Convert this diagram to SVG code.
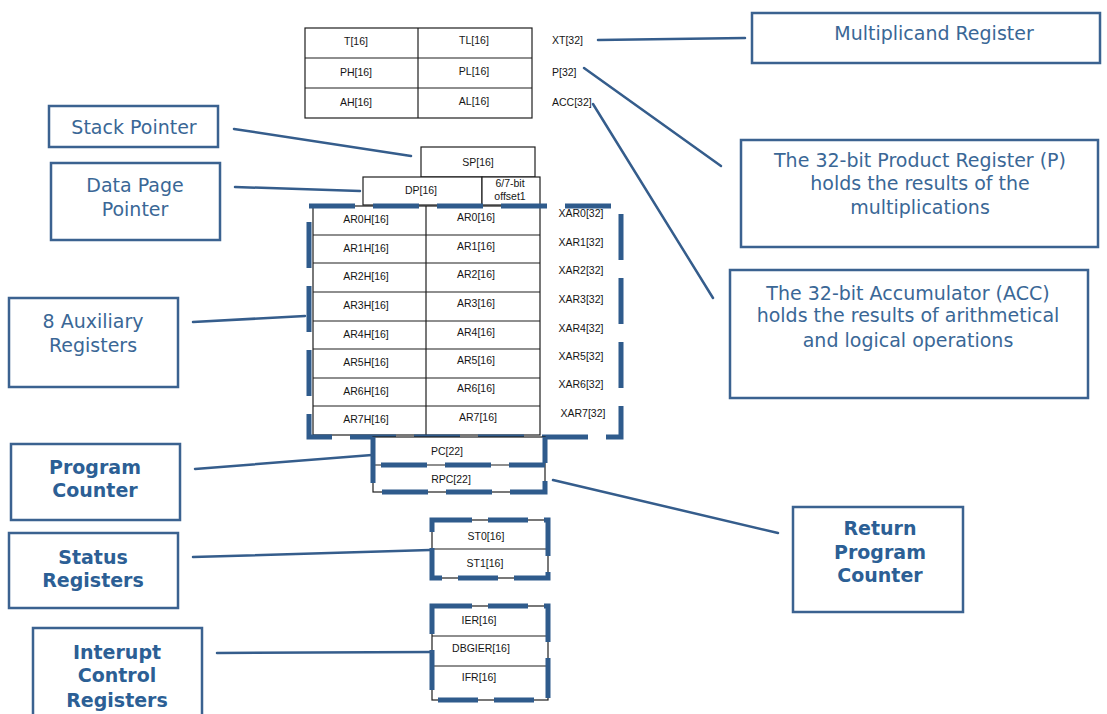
<svg xmlns="http://www.w3.org/2000/svg" width="1107" height="714" viewBox="0 0 1107 714">
  <style>
    .cell { fill: #ffffff; stroke: #1e1e1e; stroke-width: 1.2; }
    .thin { stroke: #1e1e1e; stroke-width: 1.2; fill: none; }
    .reg { font-family: "Liberation Sans", Arial, sans-serif; font-size: 10.5px; fill: #151515; }
    .regc { text-anchor: middle; }
    .frame { fill: none; stroke: #2f5b8c; stroke-width: 5; stroke-dasharray: 46 18; stroke-linecap: butt; }
    .box { fill: #ffffff; stroke: #3b6290; stroke-width: 2.5; }
    .lbl { font-family: "DejaVu Sans", Verdana, sans-serif; font-size: 19px; fill: #3a6796; text-anchor: middle; }
    .blbl { font-family: "DejaVu Sans", Verdana, sans-serif; font-size: 19px; font-weight: bold; fill: #2c5f95; text-anchor: middle; }
    .conn { stroke: #355d8c; stroke-width: 2.5; fill: none; stroke-linecap: round; }
  </style>

  <rect width="1107" height="714" fill="#ffffff"/>

  <!-- multiplier / product / accumulator registers -->
  <g id="mul-regs">
    <rect class="cell" x="305" y="28" width="227" height="90"/>
    <line class="thin" x1="305" y1="58" x2="532" y2="58"/>
    <line class="thin" x1="305" y1="88" x2="532" y2="88"/>
    <line class="thin" x1="418" y1="28" x2="418" y2="118"/>
    <text class="reg regc" x="356" y="45">T[16]</text>
    <text class="reg regc" x="474" y="44">TL[16]</text>
    <text class="reg regc" x="356" y="76">PH[16]</text>
    <text class="reg regc" x="474" y="75">PL[16]</text>
    <text class="reg regc" x="356" y="106">AH[16]</text>
    <text class="reg regc" x="474" y="105">AL[16]</text>
    <text class="reg" x="552" y="44">XT[32]</text>
    <text class="reg" x="552" y="76">P[32]</text>
    <text class="reg" x="552" y="106">ACC[32]</text>
  </g>

  <!-- stack pointer and data page pointer -->
  <g id="sp-dp">
    <rect class="cell" x="421" y="147" width="114" height="30"/>
    <text class="reg regc" x="478" y="166">SP[16]</text>
    <rect class="cell" x="363" y="177" width="119" height="28"/>
    <text class="reg regc" x="421" y="194">DP[16]</text>
    <rect class="cell" x="482" y="177" width="58" height="28"/>
    <text class="reg regc" x="510" y="187" font-size="9.5">6/7-bit</text>
    <text class="reg regc" x="510" y="200" font-size="9.5">offset1</text>
  </g>

  <!-- auxiliary registers -->
  <g id="aux-regs">
    <rect class="cell" x="313" y="206" width="227" height="229"/>
    <line class="thin" x1="426" y1="206" x2="426" y2="435"/>
    <line class="thin" x1="313" y1="235" x2="540" y2="235"/>
    <line class="thin" x1="313" y1="263" x2="540" y2="263"/>
    <line class="thin" x1="313" y1="292" x2="540" y2="292"/>
    <line class="thin" x1="313" y1="321" x2="540" y2="321"/>
    <line class="thin" x1="313" y1="349" x2="540" y2="349"/>
    <line class="thin" x1="313" y1="378" x2="540" y2="378"/>
    <line class="thin" x1="313" y1="406" x2="540" y2="406"/>

    <text class="reg regc" x="366" y="223">AR0H[16]</text>
    <text class="reg regc" x="366" y="252">AR1H[16]</text>
    <text class="reg regc" x="366" y="280">AR2H[16]</text>
    <text class="reg regc" x="366" y="309">AR3H[16]</text>
    <text class="reg regc" x="366" y="338">AR4H[16]</text>
    <text class="reg regc" x="366" y="366">AR5H[16]</text>
    <text class="reg regc" x="366" y="395">AR6H[16]</text>
    <text class="reg regc" x="366" y="423">AR7H[16]</text>

    <text class="reg regc" x="476" y="221">AR0[16]</text>
    <text class="reg regc" x="476" y="250">AR1[16]</text>
    <text class="reg regc" x="476" y="278">AR2[16]</text>
    <text class="reg regc" x="476" y="307">AR3[16]</text>
    <text class="reg regc" x="476" y="336">AR4[16]</text>
    <text class="reg regc" x="476" y="364">AR5[16]</text>
    <text class="reg regc" x="476" y="392">AR6[16]</text>
    <text class="reg regc" x="478" y="421">AR7[16]</text>

    <text class="reg regc" x="581" y="217">XAR0[32]</text>
    <text class="reg regc" x="581" y="246">XAR1[32]</text>
    <text class="reg regc" x="581" y="274">XAR2[32]</text>
    <text class="reg regc" x="581" y="303">XAR3[32]</text>
    <text class="reg regc" x="581" y="332">XAR4[32]</text>
    <text class="reg regc" x="581" y="360">XAR5[32]</text>
    <text class="reg regc" x="581" y="388">XAR6[32]</text>
    <text class="reg regc" x="583" y="417">XAR7[32]</text>

    <path class="frame" d="M309,206 H621 V437 H309 Z"/>
  </g>

  <!-- program counter and return program counter -->
  <g id="pc-rpc">
    <rect class="cell" x="373" y="437" width="172" height="55"/>
    <line class="thin" x1="373" y1="465" x2="545" y2="465"/>
    <text class="reg regc" x="447" y="455">PC[22]</text>
    <text class="reg regc" x="451" y="483">RPC[22]</text>
    <path class="frame" d="M373,437 V492 H545 V437"/>
    <path class="frame" d="M373,465 H545" stroke-dashoffset="-8"/>
  </g>

  <!-- status registers -->
  <g id="status-regs">
    <rect class="cell" x="432" y="520" width="116" height="58"/>
    <line class="thin" x1="432" y1="549" x2="548" y2="549"/>
    <text class="reg regc" x="486" y="540">ST0[16]</text>
    <text class="reg regc" x="485" y="567">ST1[16]</text>
    <path class="frame" d="M432,520 H548 V578 H432 Z" style="stroke-dasharray: 40 16"/>
  </g>

  <!-- interrupt control registers -->
  <g id="int-regs">
    <rect class="cell" x="432" y="606" width="116" height="94"/>
    <line class="thin" x1="432" y1="636" x2="548" y2="636"/>
    <line class="thin" x1="432" y1="666" x2="548" y2="666"/>
    <text class="reg regc" x="479" y="624">IER[16]</text>
    <text class="reg regc" x="481" y="652">DBGIER[16]</text>
    <text class="reg regc" x="479" y="681">IFR[16]</text>
    <path class="frame" d="M432,606 H548 V700 H432 Z" style="stroke-dasharray: 40 16"/>
  </g>

  <!-- connectors -->
  <g id="connectors">
    <line class="conn" x1="598" y1="40" x2="745" y2="38"/>
    <line class="conn" x1="584" y1="68" x2="721" y2="166"/>
    <line class="conn" x1="593" y1="104" x2="713" y2="298"/>
    <line class="conn" x1="234" y1="129" x2="411" y2="156"/>
    <line class="conn" x1="235" y1="187" x2="360" y2="191"/>
    <line class="conn" x1="193" y1="322" x2="305" y2="316"/>
    <line class="conn" x1="195" y1="469" x2="372" y2="455"/>
    <line class="conn" x1="553" y1="480" x2="778" y2="533"/>
    <line class="conn" x1="193" y1="557" x2="430" y2="550"/>
    <line class="conn" x1="217" y1="653" x2="432" y2="652"/>
  </g>

  <!-- callout labels -->
  <g id="lbl-multiplicand">
    <rect class="box" x="752" y="13" width="348" height="50"/>
    <text class="lbl" x="934" y="40">Multiplicand Register</text>
  </g>
  <g id="lbl-product">
    <rect class="box" x="741" y="140" width="357" height="107"/>
    <text class="lbl" x="920" y="167">The 32-bit Product Register (P)</text>
    <text class="lbl" x="920" y="190">holds the results of the</text>
    <text class="lbl" x="920" y="214">multiplications</text>
  </g>
  <g id="lbl-acc">
    <rect class="box" x="730" y="270" width="358" height="128"/>
    <text class="lbl" x="908" y="300">The 32-bit Accumulator (ACC)</text>
    <text class="lbl" x="908" y="322">holds the results of arithmetical</text>
    <text class="lbl" x="908" y="347">and logical operations</text>
  </g>
  <g id="lbl-sp">
    <rect class="box" x="49" y="106" width="169" height="41"/>
    <text class="lbl" x="134" y="134">Stack Pointer</text>
  </g>
  <g id="lbl-dp">
    <rect class="box" x="51" y="163" width="169" height="77"/>
    <text class="lbl" x="135" y="192">Data Page</text>
    <text class="lbl" x="135" y="216">Pointer</text>
  </g>
  <g id="lbl-aux">
    <rect class="box" x="9" y="298" width="169" height="89"/>
    <text class="lbl" x="93" y="328">8 Auxiliary</text>
    <text class="lbl" x="93" y="352">Registers</text>
  </g>
  <g id="lbl-pc">
    <rect class="box" x="11" y="444" width="169" height="76"/>
    <text class="blbl" x="95" y="474">Program</text>
    <text class="blbl" x="95" y="497">Counter</text>
  </g>
  <g id="lbl-status">
    <rect class="box" x="9" y="533" width="169" height="75"/>
    <text class="blbl" x="93" y="564">Status</text>
    <text class="blbl" x="93" y="587">Registers</text>
  </g>
  <g id="lbl-int">
    <rect class="box" x="33" y="628" width="169" height="92"/>
    <text class="blbl" x="117" y="659">Interupt</text>
    <text class="blbl" x="117" y="682">Control</text>
    <text class="blbl" x="117" y="707">Registers</text>
  </g>
  <g id="lbl-rpc">
    <rect class="box" x="793" y="507" width="170" height="105"/>
    <text class="blbl" x="880" y="535">Return</text>
    <text class="blbl" x="880" y="559">Program</text>
    <text class="blbl" x="880" y="582">Counter</text>
  </g>
</svg>
